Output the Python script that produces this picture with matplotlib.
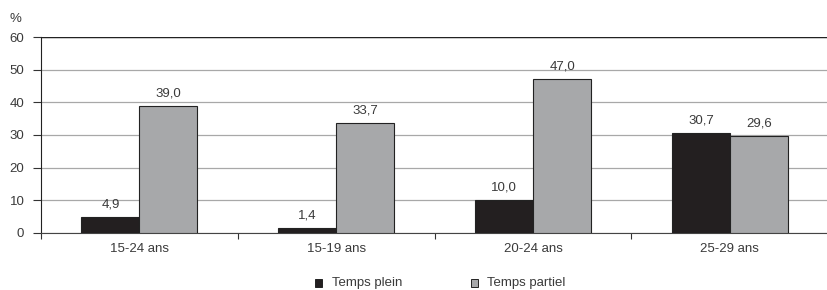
import numpy as np
import matplotlib.pyplot as plt
from matplotlib.patches import Rectangle

categories = ["15-24 ans", "15-19 ans", "20-24 ans", "25-29 ans"]
plein = [4.9, 1.4, 10.0, 30.7]
partiel = [39.0, 33.7, 47.0, 29.6]
series_names = ["Temps plein", "Temps partiel"]
yticks = [0, 10, 20, 30, 40, 50, 60]

black = "#231f20"
grey = "#a7a8aa"
txt = "#3a3a3a"
fs = 9.5

plt.rcParams["font.family"] = ["Liberation Sans", "DejaVu Sans"]
fig = plt.figure(figsize=(8.27, 2.90), dpi=100)
ax = fig.add_axes([0.0496, 0.1966, 0.952, 0.6758])

x = np.arange(len(categories))
w = 0.295
b1 = ax.bar(x - w / 2, plein, w, color=black, edgecolor="#222222", linewidth=0.8, zorder=3)
b2 = ax.bar(x + w / 2, partiel, w, color=grey, edgecolor="#222222", linewidth=0.8, zorder=3)

for bars, vals in ((b1, plein), (b2, partiel)):
    for r, v in zip(bars, vals):
        ax.text(r.get_x() + r.get_width() / 2, v + 2.0, f"{v:.1f}".replace(".", ","),
                ha="center", va="bottom", fontsize=fs, color=txt)

ax.set_xlim(-0.5, len(categories) - 0.5)
ax.set_ylim(0, 60)
ax.set_yticks(yticks)
ax.set_yticklabels([str(t) for t in yticks], fontsize=fs, color=txt)
ax.yaxis.grid(True, color="#a8a8a8", linewidth=0.9, zorder=0)
ax.axhline(60, color="#222222", linewidth=1.0, zorder=4)

ax.set_xticks(np.arange(len(categories) + 1) - 0.5)
ax.set_xticklabels([])
ax.set_xticks(x, minor=True)
ax.set_xticklabels(categories, minor=True, fontsize=fs, color=txt)
ax.tick_params(axis="x", which="minor", length=0, pad=7)
ax.tick_params(axis="x", which="major", length=4, width=0.8, color="#333333")
ax.tick_params(axis="y", length=6, width=0.8, color="#333333", pad=6)

for s in ["top", "right"]:
    ax.spines[s].set_visible(False)
ax.spines["left"].set_color("#222222")
ax.spines["bottom"].set_color("#444444")

fig.text(0.011, 0.935, "%", fontsize=fs, color=txt, ha="left", va="center")

# legend
ly = 1 - 283 / 290
for xs, col, name in ((0.381, black, series_names[0]), (0.569, grey, series_names[1])):
    fig.patches.append(Rectangle((xs, ly - 0.013), 0.0088, 0.026, transform=fig.transFigure,
                                 facecolor=col, edgecolor="#222222", linewidth=0.7))
    fig.text(xs + 0.02, ly, name, fontsize=fs, color=txt, ha="left", va="center")

plt.savefig("out.png", dpi=100)
